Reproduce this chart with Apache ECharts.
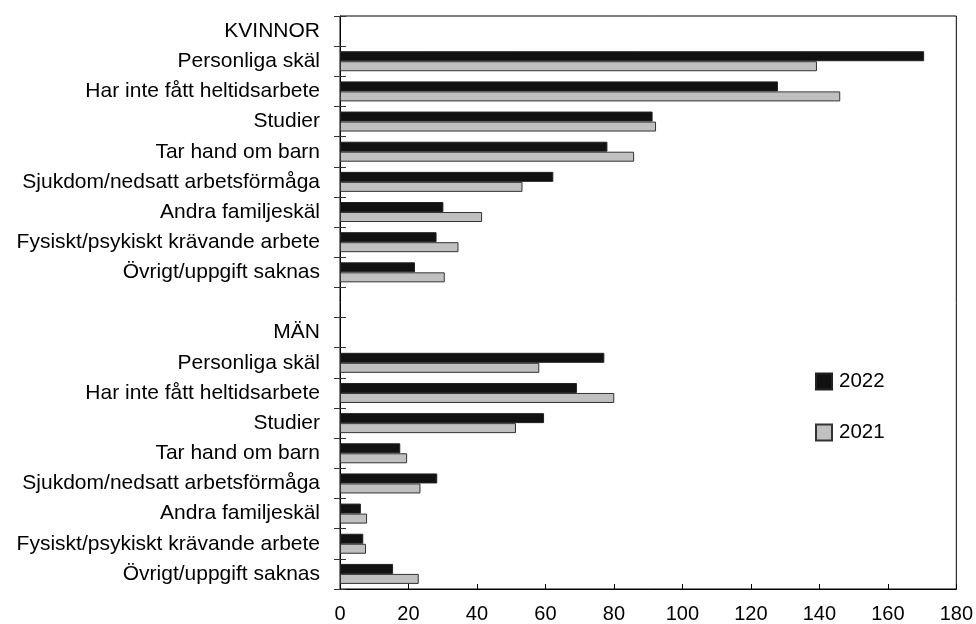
<!DOCTYPE html>
<html>
<head>
<meta charset="utf-8">
<script src="https://cdn.jsdelivr.net/npm/echarts@6/dist/echarts.min.js"></script>
<style>html,body{margin:0;padding:0;background:#fff}#c{width:976px;height:624px}</style>
</head>
<body>
<div id="c"></div>
<script>
var categories = [
  'KVINNOR',
  'Personliga skäl',
  'Har inte fått heltidsarbete',
  'Studier',
  'Tar hand om barn',
  'Sjukdom/nedsatt arbetsförmåga',
  'Andra familjeskäl',
  'Fysiskt/psykiskt krävande arbete',
  'Övrigt/uppgift saknas',
  '',
  'MÄN',
  'Personliga skäl',
  'Har inte fått heltidsarbete',
  'Studier',
  'Tar hand om barn',
  'Sjukdom/nedsatt arbetsförmåga',
  'Andra familjeskäl',
  'Fysiskt/psykiskt krävande arbete',
  'Övrigt/uppgift saknas'
];
var values2022 = [null, 170.6, 127.9, 91.3, 78.1, 62.3, 30.2, 28.2, 21.9, null,
                  null, 77.2, 69.2, 59.6, 17.6, 28.4, 6.1, 6.8, 15.5];
var values2021 = [null, 139.3, 146.1, 92.3, 85.9, 53.3, 41.5, 34.6, 30.6, null,
                  null, 58.2, 80.1, 51.4, 19.6, 23.5, 7.9, 7.6, 23.0];
var xTicks = { min: 0, max: 180, interval: 20 };

var font = 'Liberation Sans, Arial, sans-serif';
var chart = echarts.init(document.getElementById('c'));
chart.setOption({
  animation: false,
  backgroundColor: '#fff',
  grid: { left: 340, right: 19, top: 16, bottom: 35, show: true, borderColor: '#000', borderWidth: 1, containLabel: false },
  legend: {
    orient: 'vertical', left: 815, top: 371, padding: 0,
    itemWidth: 16, itemHeight: 16, itemGap: 30,
    textStyle: { fontSize: 20.5, color: '#000', fontFamily: font, padding: [5, 0, 0, 2] },
    data: [
      { name: '2022', icon: 'rect' },
      { name: '2021', icon: 'rect' }
    ]
  },
  xAxis: {
    type: 'value', min: xTicks.min, max: xTicks.max, interval: xTicks.interval,
    splitLine: { show: false },
    axisLine: { show: true, lineStyle: { color: '#000', width: 1 } },
    axisTick: { show: true, inside: true, length: 5, lineStyle: { color: '#000' } },
    axisLabel: { fontSize: 20, color: '#000', fontFamily: font, margin: 15 }
  },
  yAxis: [{
    type: 'category', data: categories, inverse: true,
    axisLine: { show: true, lineStyle: { color: '#000', width: 1 } },
    axisTick: { show: true, inside: false, length: 6, lineStyle: { color: '#333' } },
    axisLabel: { fontSize: 21, color: '#000', fontFamily: font, margin: 20, interval: 0 }
  }, {
    type: 'category', data: categories, inverse: true, position: 'left',
    axisLine: { show: false },
    axisTick: { show: true, inside: true, length: 6, lineStyle: { color: '#333' } },
    axisLabel: { show: false }
  }],
  series: [{
    name: '2022', type: 'bar', data: values2022, yAxisIndex: 0,
    barWidth: 10, barGap: '0%',
    itemStyle: { color: '#111111', borderColor: '#222', borderWidth: 1 }
  }, {
    name: '2021', type: 'bar', data: values2021, yAxisIndex: 0,
    barWidth: 10, barGap: '0%',
    itemStyle: { color: '#c0c0c0', borderColor: '#333', borderWidth: 1 }
  }]
});
</script>
</body>
</html>
